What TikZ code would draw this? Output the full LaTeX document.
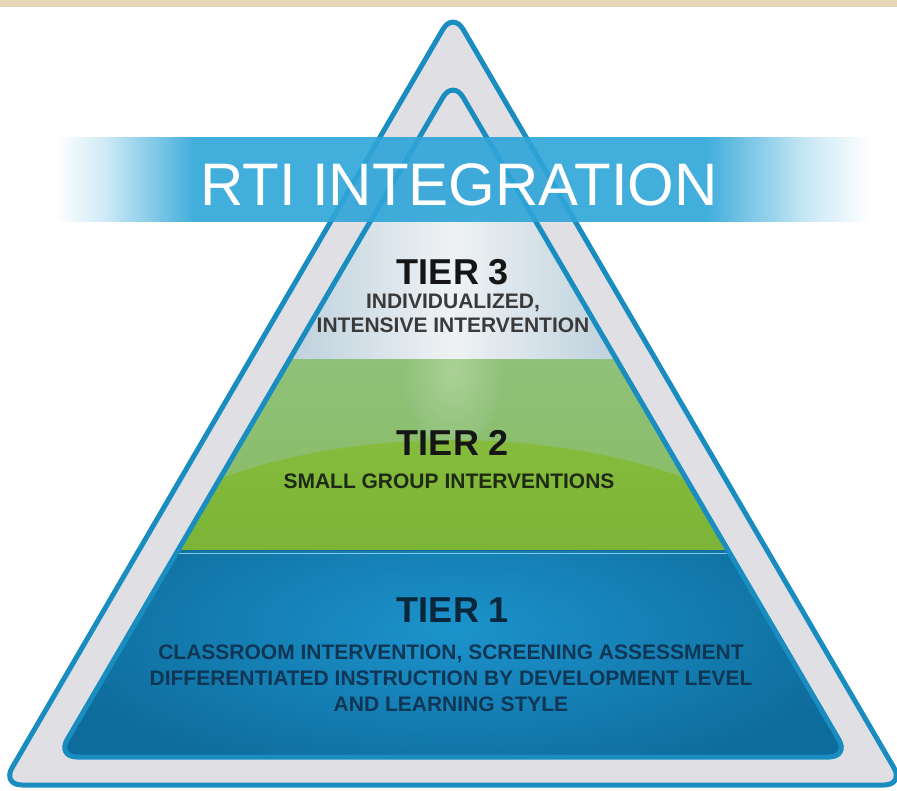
\documentclass[tikz,border=0pt]{standalone}
\usepackage{fontspec}
\setmainfont{Liberation Sans}
\usetikzlibrary{positioning}
\definecolor{rtiblue}{HTML}{1A8DC0}
\definecolor{bandgrey}{HTML}{E0E0E4}
\definecolor{beige}{HTML}{E6D6BA}
\definecolor{bannerblue}{HTML}{2EA5D8}
\definecolor{tthreeedge}{HTML}{BACFDB}
\definecolor{tthreemid}{HTML}{EFF2F4}
\definecolor{ttwotop}{HTML}{8FC179}
\definecolor{ttwomid}{HTML}{86BB60}
\definecolor{ttwoglow}{HTML}{ABD196}
\definecolor{hilltop}{HTML}{88BD3E}
\definecolor{hillbot}{HTML}{7BB437}
\definecolor{tonecenter}{HTML}{1C93CC}
\definecolor{toneedge}{HTML}{0E6C9C}
\definecolor{darktext}{HTML}{151515}
\definecolor{greytext}{HTML}{3A3A3A}
\definecolor{greentext}{HTML}{1E2A14}
\definecolor{navytext}{HTML}{0F3654}
\pgfdeclarehorizontalshading{bannershade}{100bp}{color(0bp)=(white); color(25bp)=(white);
  color(28bp)=(bannerblue!25); color(33.5bp)=(bannerblue); color(65bp)=(bannerblue);
  color(71bp)=(bannerblue!30); color(75bp)=(white); color(100bp)=(white)}
\begin{document}
\begin{tikzpicture}[x=1pt, y=-1pt, line join=round, line cap=round,
    rim/.style={draw=rtiblue, line width=5pt, rounded corners=20pt},
    tiername/.style={font=\fontsize{36}{40}\selectfont\bfseries, text=darktext, inner sep=0pt},
    tierdesc/.style={font=\fontsize{21}{24}\selectfont\bfseries, align=center, inner sep=0pt}]
  \useasboundingbox (0,0) rectangle (897,791);
  \def\apex{453}
  \fill[beige] (0,0) rectangle (897,7);
  % triangle corners
  \coordinate (otop) at (\apex,12);
  \coordinate (oleft) at (2,785);
  \coordinate (oright) at (904,785);
  \coordinate (itop) at (\apex,80);
  \coordinate (ileft) at (57,757);
  \coordinate (iright) at (849,757);
  \path[rim, fill=bandgrey] (otop) -- (oleft) -- (oright) -- cycle;
  \begin{scope}
    \clip[rounded corners=20pt] (itop) -- (ileft) -- (iright) -- cycle;
    \fill[bandgrey] (0,0) rectangle (897,791);
    % tier 3
    \shade[left color=tthreeedge, right color=tthreeedge, middle color=tthreemid] (280,205) rectangle (626,361);
    % tier 2
    \begin{scope}
      \clip (0,360) rectangle (897,551);
      \shade[top color=ttwotop, bottom color=ttwomid] (170,360) rectangle (736,551);
      \shade[inner color=ttwoglow, outer color=ttwotop] (453,370) ellipse [x radius=50, y radius=75];
      \shade[top color=hilltop, bottom color=hillbot] (170,551) -- (170,500)
        .. controls (330,420) and (576,420) .. (736,500) -- (736,551) -- cycle;
    \end{scope}
    % tier 1
    \begin{scope}
      \clip (0,550) rectangle (897,791);
      \shade[inner color=tonecenter, outer color=toneedge] (40,470) rectangle (866,790);
    \end{scope}
    \draw[toneedge, line width=1.5pt] (100,550.5) -- (800,550.5);
    \draw[bannerblue!60, line width=1pt] (100,553) -- (800,553);
  \end{scope}
  \draw[rim] (itop) -- (ileft) -- (iright) -- cycle;
  % banner
  \shade[shading=bannershade, opacity=0.9] (55,138) rectangle (870,222);
  \node[font=\fontsize{60}{64}\selectfont, text=white, inner sep=0pt] (title) at (459,185) {RTI INTEGRATION};
  % labels
  \node[tiername] (tierthree) at (453,272) {TIER 3};
  \node[tierdesc, text=greytext] (tierthreetext) at (453,313) {INDIVIDUALIZED,\\INTENSIVE INTERVENTION};
  \node[tiername] (tiertwo) at (453,443) {TIER 2};
  \node[tierdesc, text=greentext] (tiertwotext) at (449,481) {SMALL GROUP INTERVENTIONS};
  \node[tiername, text=navytext!70!black] (tierone) at (453,610) {TIER 1};
  \node[tierdesc, text=navytext, font=\fontsize{21}{26}\selectfont\bfseries] (tieronetext) at (451,678)
    {CLASSROOM INTERVENTION, SCREENING ASSESSMENT\\DIFFERENTIATED INSTRUCTION BY DEVELOPMENT LEVEL\\AND LEARNING STYLE};
\end{tikzpicture}
\end{document}
